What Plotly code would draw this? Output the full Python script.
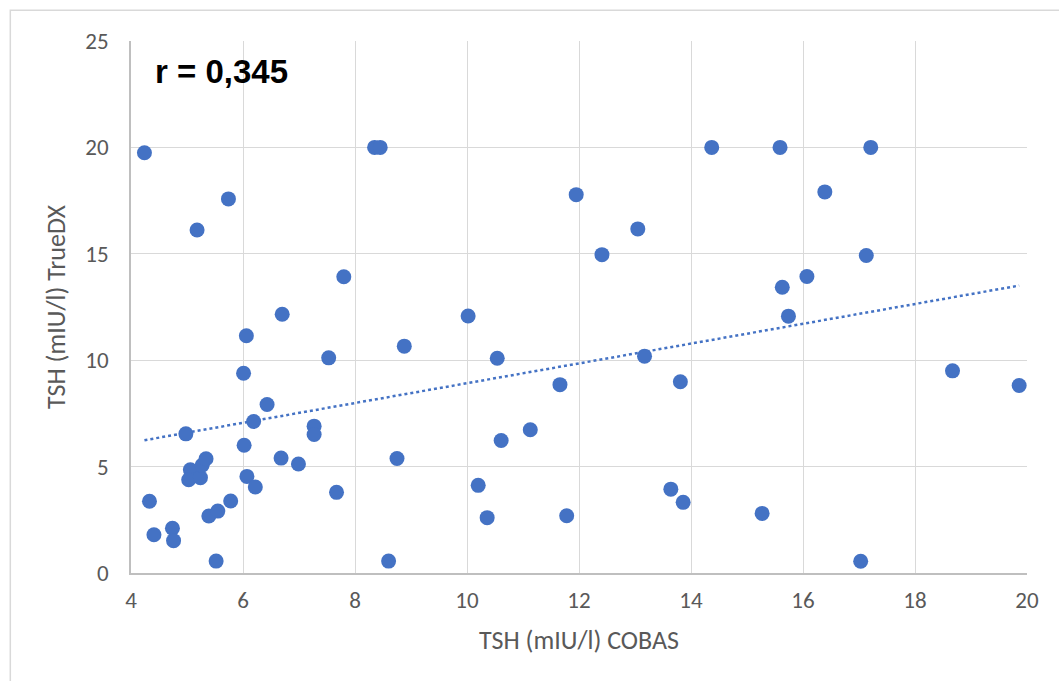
import numpy as np
import plotly.graph_objects as go

cobas = [4.24, 4.33, 4.41, 4.74, 4.76, 4.98, 5.06, 5.03, 5.24, 5.27, 5.34, 5.39, 5.52, 5.55, 5.78,
         5.18, 5.74, 6.02, 6.07, 6.22, 6.19, 6.43, 6.68, 6.99, 7.27, 7.27, 7.67, 8.75, 8.60, 8.35,
         8.45, 7.80, 6.70, 6.06, 7.53, 8.88, 6.01, 14.37, 11.95, 13.05, 12.41, 10.02, 10.54, 13.17,
         11.66, 13.81, 11.13, 10.61, 10.20, 10.36, 11.78, 13.64, 13.86, 15.59, 17.21, 16.39, 17.13,
         16.07, 15.63, 15.74, 18.67, 19.86, 15.27, 17.03]
truedx = [19.75, 3.37, 1.80, 2.10, 1.52, 6.54, 4.85, 4.38, 4.48, 5.06, 5.37, 2.68, 0.56, 2.91, 3.38,
          16.12, 17.58, 6.00, 4.54, 4.04, 7.12, 7.92, 5.40, 5.12, 6.90, 6.51, 3.79, 5.38, 0.56, 20.0,
          20.0, 13.92, 12.16, 11.15, 10.11, 10.66, 9.39, 20.0, 17.78, 16.17, 14.96, 12.08, 10.09, 10.19,
          8.85, 8.99, 6.73, 6.23, 4.12, 2.60, 2.69, 3.94, 3.32, 20.0, 20.0, 17.91, 14.92,
          13.93, 13.43, 12.07, 9.50, 8.81, 2.80, 0.55]

x_ticks = [4, 6, 8, 10, 12, 14, 16, 18, 20]
y_ticks = [0, 5, 10, 15, 20, 25]
annotation_text = "r = 0,345"

slope, intercept = np.polyfit(cobas, truedx, 1)
tx = np.array([min(cobas), max(cobas)])
ty = slope * tx + intercept

blue = "#4472C4"
font_fam = "Carlito, Calibri, Lato, sans-serif"

fig = go.Figure()
fig.add_trace(go.Scatter(x=tx, y=ty, mode="lines",
                         line=dict(color=blue, width=2.5, dash="dot"),
                         hoverinfo="skip", showlegend=False))
fig.add_trace(go.Scatter(x=cobas, y=truedx, mode="markers",
                         marker=dict(color=blue, size=15, line=dict(width=0)),
                         showlegend=False))

axis_common = dict(showgrid=True, gridcolor="#D9D9D9", gridwidth=1.3,
                   zeroline=False, showline=True, linecolor="#BFBFBF", linewidth=1.5,
                   ticks="", tickfont=dict(family=font_fam, size=23, color="#595959"),
                   title_font=dict(family=font_fam, size=26, color="#595959"))

fig.update_xaxes(range=[4, 20], tickvals=x_ticks, title_text="TSH (mIU/l) COBAS",
                 title_standoff=17, ticklabelstandoff=6, **axis_common)
fig.update_yaxes(range=[0, 25], tickvals=y_ticks, title_text="TSH (mIU/l) TrueDX",
                 title_standoff=12, ticklabelstandoff=16, **axis_common)

fig.add_annotation(x=0.024, y=0.943, xref="paper", yref="paper", xanchor="left", yanchor="middle",
                   text=annotation_text, showarrow=False,
                   font=dict(family="Arial, 'Liberation Sans', sans-serif", size=33, color="black", weight="bold"))

fig.add_shape(type="rect", xref="paper", yref="paper", x0=-0.1347, x1=1.3, y0=-0.5, y1=1.0577,
              line=dict(color="#D9D9D9", width=1.5), fillcolor="rgba(0,0,0,0)", layer="below")

fig.update_layout(width=1059, height=681, margin=dict(l=131, r=32, t=41, b=108),
                  plot_bgcolor="white", paper_bgcolor="white")

fig.write_html("out.html")
